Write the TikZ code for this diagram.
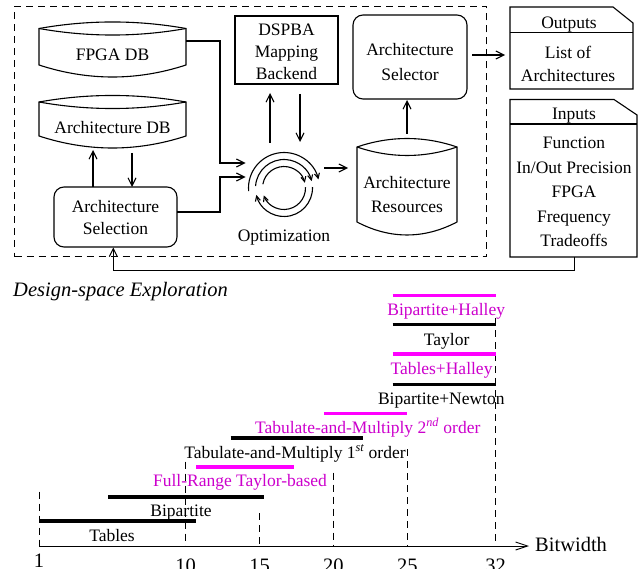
\documentclass[tikz,border=0pt]{standalone}
\usepackage{fontspec}
\setmainfont{Liberation Serif}
\usetikzlibrary{arrows.meta}
\definecolor{mag}{RGB}{255,0,255}
\definecolor{magtxt}{RGB}{204,0,204}
\begin{document}
\begin{tikzpicture}[x=1pt,y=-1pt,
  ln/.style={line width=1.1pt},
  arr/.style={line width=1.1pt,-{Straight Barb[length=8pt,width=8pt]}},
  sarr/.style={line width=1.1pt,-{Straight Barb[length=5pt,width=5pt]}},
  txt/.style={font=\fontsize{17.5}{22}\selectfont,align=center,inner sep=0pt},
  lbl/.style={font=\fontsize{17.5}{22}\selectfont,inner sep=0pt,anchor=base},
  big/.style={font=\fontsize{20.5}{24}\selectfont,inner sep=0pt,anchor=base},
  bar/.style={line width=3.6pt},
  vdash/.style={line width=0.9pt,dash pattern=on 7pt off 5pt},
  frame/.style={line width=1pt,dash pattern=on 7pt off 5pt},
  rbox/.style={draw,line width=1.1pt,rounded corners=10pt,inner sep=0pt}
]
\useasboundingbox (0,0) rectangle (639,569);

% ---------- design-space exploration frame ----------
\node[draw,frame,minimum width=472pt,minimum height=250pt,anchor=north west,inner sep=0pt] (dse) at (14,6) {};
\node[anchor=base west,font=\fontsize{20.5}{24}\selectfont\itshape,inner sep=0pt] (dsel) at (13,296) {Design-space Exploration};

% FPGA DB
\draw[ln] (39,28.5) .. controls (88,19.8) and (137,19.8) .. (186,28.5) -- (186,65) .. controls (137,81) and (88,81) .. (39,65) -- cycle;
\draw[ln] (39,28.5) .. controls (88,37.2) and (137,37.2) .. (186,28.5);
\node[txt] (fpga) at (112.5,55) {FPGA DB};

% Architecture DB
\draw[ln] (39,102) .. controls (88,93.3) and (137,93.3) .. (186,102) -- (186,136) .. controls (137,152) and (88,152) .. (39,136) -- cycle;
\draw[ln] (39,102) .. controls (88,110.7) and (137,110.7) .. (186,102);
\node[txt] (adb) at (112.5,128) {Architecture DB};

% Architecture Resources
\draw[ln] (357,147) .. controls (390,135.7) and (424,135.7) .. (457,147) -- (457,222) .. controls (424,239.3) and (390,239.3) .. (357,222) -- cycle;
\draw[ln] (357,147) .. controls (390,158.3) and (424,158.3) .. (457,147);
\node[txt,font=\fontsize{17.5}{24}\selectfont] (ares) at (407,195) {Architecture\\Resources};

% DSPBA
\node[draw,ln,minimum width=103pt,minimum height=68pt,inner sep=0pt] (dspba) at (286.5,50) {};
\node[txt] (dspbat) at (286.5,52) {DSPBA\\Mapping\\Backend};

% Architecture Selector
\node[rbox,minimum width=114pt,minimum height=84pt] (asel) at (410,57) {};
\node[txt,font=\fontsize{17.5}{25}\selectfont] (aselt) at (410,62.5) {Architecture\\Selector};

% Architecture Selection
\node[rbox,minimum width=123pt,minimum height=60pt] (asn) at (115.5,217) {};
\node[txt] (asnt) at (115.5,218) {Architecture\\Selection};

% Outputs
\draw[ln] (510,7) -- (613,7) -- (633,23) -- (633,89) -- (510,89) -- cycle;
\draw[ln] (510,32.5) -- (633,32.5);
\node[lbl] (outh) at (569,28.5) {Outputs};
\node[txt,font=\fontsize{17.5}{23}\selectfont] (outb) at (568,63.5) {List of\\Architectures};

% Inputs
\draw[ln] (510,99.5) -- (614,99.5) -- (637,115) -- (637,257) -- (510,257) -- cycle;
\draw[ln] (510,124) -- (637,124);
\node[lbl] (inh) at (574,120) {Inputs};
\node[txt,font=\fontsize{17.5}{24.5}\selectfont] (inb) at (574,192) {Function\\In/Out Precision\\FPGA\\Frequency\\Tradeoffs};

% Optimization symbol
\node[circle,minimum size=72pt,inner sep=0pt] (opt) at (284,188) {};
\begin{scope}[shift={(284,188)},x=1pt,y=1pt]
  \draw[sarr] (185:35.5) arc[start angle=185,end angle=14,radius=35.5];
  \draw[sarr] (176:28.5) arc[start angle=176,end angle=14,radius=28.5];
  \draw[sarr] (2:28.5) arc[start angle=2,end angle=-166,radius=28.5];
  \draw[sarr] (170:21.5) arc[start angle=170,end angle=14,radius=21.5];
  \draw[sarr] (2:21.5) arc[start angle=2,end angle=-160,radius=21.5];
\end{scope}
\node[lbl] (optl) at (284,241.5) {Optimization};

% connector coordinates
\coordinate (fpgaout) at (186,41);
\coordinate (optin1) at (245.5,163);
\coordinate (asnout) at (177,212);
\coordinate (optin2) at (245.5,177);
\coordinate (optout) at (324,168);
\coordinate (aresin) at (348,168);
\coordinate (arestop) at (407,134);
\coordinate (aselbot) at (407,100);
\coordinate (aselout) at (472,55);
\coordinate (outin) at (505,55);
\coordinate (inbot) at (574.3,257);
\coordinate (asnbot) at (113.3,247.5);

\draw[arr] (fpgaout) -- (220,41) |- (optin1);
\draw[arr] (asnout) -- (220,212) |- (optin2);
\draw[arr] (270,143) -- (270,93);
\draw[arr] (300,94) -- (300,142);
\draw[arr] (93,187) -- (93,150);
\draw[arr] (132,153) -- (132,187);
\draw[arr] (optout) -- (aresin);
\draw[arr] (arestop) -- (aselbot);
\draw[arr] (aselout) -- (outin);
\draw[line width=1pt,-{Straight Barb[length=8pt,width=8pt]}] (inbot) -- ++(0,13) -| (asnbot);

% ---------- bitwidth chart ----------
\draw[vdash] (39,491.7) -- (39,546);
\draw[vdash] (185.7,461.7) -- (185.7,546);
\draw[vdash] (259.7,513) -- (259.7,546);
\draw[vdash] (333.3,472.7) -- (333.3,546);
\draw[vdash] (407.3,449.3) -- (407.3,546);
\draw[vdash] (495.7,318.3) -- (495.7,546);

\draw[line width=0.9pt,-{Straight Barb[length=12pt,width=8pt]}] (39,546) -- (529,546);
\node[big,anchor=base west] (bw) at (535,551.5) {Bitwidth};
\node[big] (t1) at (39,567) {1};
\node[big] (t10) at (185.7,572) {10};
\node[big] (t15) at (259.7,572) {15};
\node[big] (t20) at (333.3,572) {20};
\node[big] (t25) at (407.3,572) {25};
\node[big] (t32) at (495.7,572) {32};

\draw[bar] (39,521) -- (195.7,521);
\node[lbl] (l1) at (112,541.5) {Tables};
\draw[bar] (108,497) -- (264.3,497);
\node[lbl] (l2) at (181,516.5) {Bipartite};
\draw[bar,mag] (196.3,467) -- (293.7,467);
\node[lbl,text=magtxt] (l3) at (240,486) {Full-Range Taylor-based};
\draw[bar] (230.7,437.7) -- (362.7,437.7);
\node[lbl] (l4) at (295,458) {Tabulate-and-Multiply 1\textsuperscript{\itshape st} order};
\draw[bar,mag] (324,413.3) -- (407.3,413.3);
\node[lbl,text=magtxt] (l5) at (367.7,433) {Tabulate-and-Multiply 2\textsuperscript{\itshape nd} order};
\draw[bar] (392.7,384.3) -- (495.7,384.3);
\node[lbl] (l6) at (441.3,404.5) {Bipartite+Newton};
\draw[bar,mag] (392.7,354) -- (495.7,354);
\node[lbl,text=magtxt] (l7) at (441.5,374) {Tables+Halley};
\draw[bar] (392.7,324.3) -- (495.7,324.3);
\node[lbl] (l8) at (446.7,345.5) {Taylor};
\draw[bar,mag] (392.7,295.3) -- (495.7,295.3);
\node[lbl,text=magtxt] (l9) at (446.2,315) {Bipartite+Halley};
\end{tikzpicture}
\end{document}
